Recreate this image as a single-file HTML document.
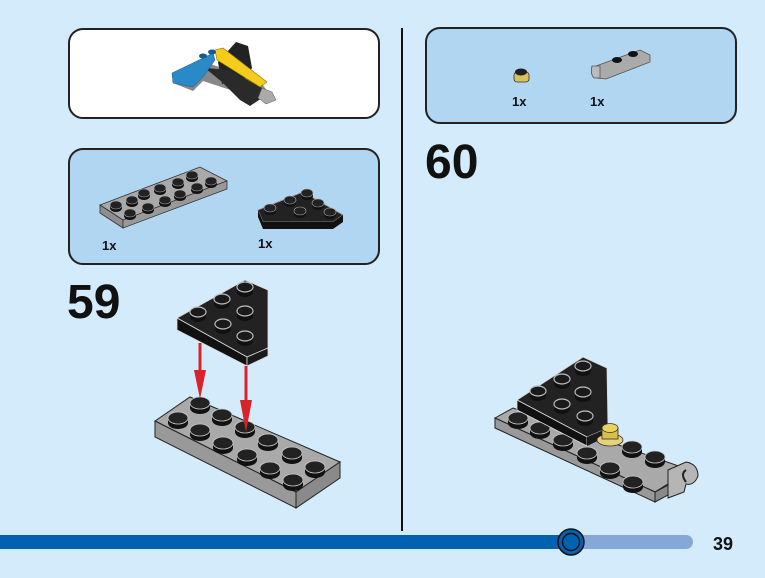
<!DOCTYPE html>
<html><head><meta charset="utf-8"><style>
html,body{margin:0;padding:0;background:#d3ebfa;}
svg{display:block}
text{font-family:"Liberation Sans",Arial,sans-serif;font-weight:bold;fill:#111}
</style></head><body>
<svg width="765" height="578" viewBox="0 0 765 578" xmlns="http://www.w3.org/2000/svg">
<defs>
<g id="stud"><path d="M-10,0 v5 a10,6 0 0 0 20,0 v-5 z" fill="#111"/><ellipse cx="0" cy="0" rx="10" ry="6" fill="#222" stroke="#ccc" stroke-width="0.8"/></g>
<g id="studw"><path d="M-8,0 v5 a8,5 0 0 0 16,0 v-5 z" fill="#111"/><ellipse cx="0" cy="0" rx="8" ry="5" fill="#1a1a1a" stroke="#bbb" stroke-width="1.2"/></g>
<g id="studs"><path d="M-6,0 v3 a6,4 0 0 0 12,0 v-3 z" fill="#111"/><ellipse cx="0" cy="0" rx="6" ry="4" fill="#222" stroke="#aaa" stroke-width="0.6"/></g>
</defs>
<rect width="765" height="578" fill="#d3ebfa"/>
<!-- boxes -->
<rect x="69" y="29" width="310" height="89" rx="14" fill="#fff" stroke="#222" stroke-width="2"/>
<rect x="69" y="149" width="310" height="115" rx="14" fill="#b0d6f1" stroke="#222" stroke-width="2"/>
<rect x="426" y="28" width="310" height="95" rx="14" fill="#b0d6f1" stroke="#222" stroke-width="2"/>
<line x1="402" y1="28" x2="402" y2="531" stroke="#111" stroke-width="2"/>

<!-- box1 model -->
<polygon points="173,83 193,91 203,81 258,99 268,92 262,84 235,72 210,64 173,78" fill="#888"/>
<polygon points="218,62 236,42 248,46 252,68 245,78 222,84" fill="#222"/>
<polygon points="205,68 222,82 240,100 250,106 262,98 262,88 230,70" fill="#2a2a2a"/>
<polygon points="172,73 197,61 213,53 215,60 203,77 193,87 173,83" fill="#2a8ac8" stroke="#1a5a88" stroke-width="0.5"/>
<polygon points="215,50 223,48 267,82 260,87 217,60" fill="#f5cc1a" stroke="#8a7000" stroke-width="0.6"/>
<polygon points="262,88 272,92 276,100 266,104 258,98" fill="#aaa" stroke="#555" stroke-width="0.5"/>
<ellipse cx="203" cy="56" rx="4" ry="2.5" fill="#1a5a88"/><ellipse cx="212" cy="52" rx="4" ry="2.5" fill="#1a5a88"/>

<!-- box2 parts -->
<polygon points="100,205 200,167 227,181 123,220" fill="#a9a9a9" stroke="#333" stroke-width="0.8"/>
<polygon points="100,205 123,220 123,228 100,213" fill="#8e8e8e" stroke="#333" stroke-width="0.8"/>
<polygon points="123,220 227,181 227,189 123,228" fill="#999" stroke="#333" stroke-width="0.8"/>
<use href="#studs" x="116" y="205"/><use href="#studs" x="132" y="200"/>
<use href="#studs" x="130" y="213"/><use href="#studs" x="144" y="193"/>
<use href="#studs" x="148" y="207"/><use href="#studs" x="160" y="188"/>
<use href="#studs" x="165" y="200"/><use href="#studs" x="178" y="182"/>
<use href="#studs" x="180" y="194"/><use href="#studs" x="192" y="175"/>
<use href="#studs" x="197" y="187"/><use href="#studs" x="211" y="181"/>
<polygon points="258,210 303,192 343,215 333,222 263,222" fill="#222" stroke="#999" stroke-width="0.8"/>
<polygon points="263,222 333,222 343,215 343,222 333,229 263,229 258,217 258,210" fill="#111"/>
<use href="#studs" x="270" y="208"/><use href="#studs" x="290" y="200"/><use href="#studs" x="307" y="193"/>
<use href="#studs" x="300" y="211"/><use href="#studs" x="318" y="203"/><use href="#studs" x="330" y="212"/>
<text x="102" y="250" font-size="13">1x</text>
<text x="258" y="248" font-size="13">1x</text>

<!-- box3 parts -->
<rect x="514" y="72" width="15" height="10" rx="3" fill="#d6c25a" stroke="#333" stroke-width="0.8"/>
<ellipse cx="521" cy="72" rx="6" ry="3.5" fill="#222"/>
<polygon points="596,66 640,50 650,55 650,62 606,79 596,78" fill="#aaa" stroke="#555" stroke-width="0.8"/>
<path d="M592,66 q-2,8 2,12 l6,0 l0,-12 z" fill="#bbb" stroke="#555" stroke-width="0.8"/>
<ellipse cx="617" cy="60" rx="5" ry="3" fill="#111"/><ellipse cx="633" cy="54" rx="5" ry="3" fill="#111"/>
<text x="512" y="106" font-size="13">1x</text>
<text x="590" y="106" font-size="13">1x</text>

<text x="67" y="318" font-size="48">59</text>
<text x="425" y="178" font-size="48">60</text>

<!-- step 59 plate -->
<polygon points="155,421 190,397 340,462 296,492" fill="#a9a9a9" stroke="#222" stroke-width="1"/>
<polygon points="155,421 296,492 296,508 155,437" fill="#999" stroke="#222" stroke-width="1"/>
<polygon points="296,492 340,462 340,478 296,508" fill="#8a8a8a" stroke="#222" stroke-width="1"/>
<use href="#stud" x="200" y="403"/><use href="#stud" x="222" y="415"/><use href="#stud" x="245" y="427"/>
<use href="#stud" x="268" y="440"/><use href="#stud" x="292" y="453"/><use href="#stud" x="315" y="467"/>
<use href="#stud" x="178" y="418"/><use href="#stud" x="200" y="430"/><use href="#stud" x="223" y="443"/>
<use href="#stud" x="247" y="455"/><use href="#stud" x="270" y="468"/><use href="#stud" x="293" y="480"/>
<!-- wedge 59 -->
<polygon points="177,318 245,280 268,290 268,348 247,357" fill="#222" stroke="#ddd" stroke-width="0.8"/>
<polygon points="177,318 247,357 247,366 177,330" fill="#111" stroke="#ddd" stroke-width="0.8"/>
<polygon points="247,357 268,348 268,356 247,366" fill="#1a1a1a" stroke="#ddd" stroke-width="0.8"/>
<use href="#studw" x="245" y="287"/><use href="#studw" x="222" y="299"/><use href="#studw" x="245" y="311"/>
<use href="#studw" x="198" y="312"/><use href="#studw" x="223" y="324"/><use href="#studw" x="245" y="336"/>
<!-- arrows -->
<line x1="200" y1="343" x2="200" y2="378" stroke="#d8232a" stroke-width="3"/>
<polygon points="194,370 206,370 200,399" fill="#d8232a"/>
<line x1="246" y1="366" x2="246" y2="410" stroke="#d8232a" stroke-width="3"/>
<polygon points="240,400 252,400 246,432" fill="#d8232a"/>

<!-- step 60 -->
<polygon points="495,418 513,408 690,470 655,492" fill="#a9a9a9" stroke="#222" stroke-width="1"/>
<polygon points="495,418 655,492 655,502 495,428" fill="#999" stroke="#222" stroke-width="1"/>
<polygon points="655,492 670,484 670,494 655,502" fill="#8a8a8a" stroke="#222" stroke-width="1"/>
<path d="M668,470 l18,-8 q12,2 12,14 q-4,10 -12,8 l-2,8 l-16,6 z" fill="#b5b5b5" stroke="#222" stroke-width="1"/>
<path d="M686,470 q-6,4 0,12" fill="none" stroke="#222" stroke-width="2"/>
<use href="#stud" x="518" y="418"/><use href="#stud" x="540" y="428"/><use href="#stud" x="563" y="440"/>
<use href="#stud" x="587" y="453"/><use href="#stud" x="610" y="468"/><use href="#stud" x="633" y="482"/>
<use href="#stud" x="632" y="447"/><use href="#stud" x="655" y="457"/>
<polygon points="517,400 583,357 607,368 608,428 587,437" fill="#222" stroke="#ddd" stroke-width="0.8"/>
<polygon points="517,400 587,437 587,446 517,410" fill="#111" stroke="#ddd" stroke-width="0.8"/>
<polygon points="587,437 608,428 608,436 587,446" fill="#1a1a1a"/>
<use href="#studw" x="583" y="366"/><use href="#studw" x="562" y="379"/><use href="#studw" x="583" y="392"/>
<use href="#studw" x="538" y="391"/><use href="#studw" x="562" y="404"/><use href="#studw" x="585" y="416"/>
<ellipse cx="610" cy="440" rx="13" ry="6" fill="#e6d27a" stroke="#333" stroke-width="0.8"/>
<rect x="602" y="428" width="16" height="11" fill="#d9c04a" stroke="#333" stroke-width="0.8"/>
<ellipse cx="610" cy="428" rx="8" ry="4.5" fill="#e9d35c" stroke="#333" stroke-width="0.8"/>

<!-- bottom bar -->
<rect x="560" y="535" width="133" height="14" rx="7" fill="#85a8d9"/>
<rect x="0" y="535" width="572" height="14" fill="#0062b0"/>
<circle cx="571" cy="542" r="13" fill="#0062b0" stroke="#111" stroke-width="1.5"/>
<circle cx="571" cy="542" r="8.5" fill="none" stroke="#111" stroke-width="1.5"/>
<text x="713" y="550" font-size="18">39</text>
</svg>
</body></html>
